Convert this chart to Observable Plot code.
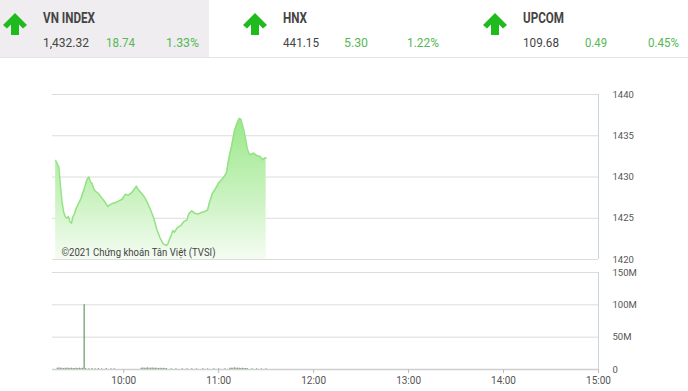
<!DOCTYPE html>
<html>
<head>
<meta charset="utf-8">
<script src="https://cdn.jsdelivr.net/npm/d3@7"></script>
<script src="https://cdn.jsdelivr.net/npm/@observablehq/plot@0.6"></script>
<style>
  html, body { margin: 0; padding: 0; background: #fff; }
  #root { position: relative; width: 688px; height: 391px; overflow: hidden; font-family: Roboto, "Noto Sans", sans-serif; }
  #header { position: absolute; left: 0; top: 0; }
  #price { position: absolute; left: 0; top: 58px; }
  #volume { position: absolute; left: 0; top: 265px; }
</style>
</head>
<body>
<div id="root">
  <div id="header"></div>
  <div id="price"></div>
  <div id="volume"></div>
</div>
<script>
// ---------- data ----------
const indexNames   = ["VN INDEX", "HNX", "UPCOM"];
const indexValues  = ["1,432.32", "441.15", "109.68"];
const indexChanges = ["18.74", "5.30", "0.49"];
const indexPercents = ["1.33%", "1.22%", "0.45%"];

// minutes after 09:00
const priceMinutes = [17,18,19,20,21,22,23,24,25,26,27,28,29,30,31,32,33,34,35,36,37,38,39,40,41,42,44,46,48,50,51,53,55,57,59,61,63,65,67,68,69,71,73,75,77,79,81,83,85,87,88,89,90,91,92,94,96,98,100,101,103,105,107,109,111,113,114,116,118,120,122,124,125,126,127,128,129,130,131,132,133,134,135,136,137,138,139,140,142,144,146,148,149,150];
const priceValues  = [1432.0,1431.6,1431.2,1429.0,1427.0,1425.8,1425.2,1425.0,1425.2,1424.6,1424.4,1425.2,1425.6,1426.2,1426.6,1427.0,1427.4,1428.0,1428.5,1429.2,1429.8,1430.0,1429.4,1429.2,1428.6,1428.3,1428.0,1427.5,1427.0,1426.4,1426.6,1426.8,1426.9,1427.1,1427.3,1427.9,1427.8,1428.1,1428.6,1428.9,1428.5,1428.1,1427.6,1426.9,1426.0,1425.0,1423.6,1422.6,1421.9,1421.7,1421.9,1422.5,1422.9,1423.5,1423.3,1423.9,1424.1,1424.6,1424.8,1425.5,1425.9,1425.6,1425.5,1425.7,1425.8,1426.0,1426.8,1428.0,1428.6,1429.3,1429.7,1430.2,1430.6,1431.8,1432.8,1433.6,1434.6,1435.6,1436.2,1436.7,1437.1,1437.0,1436.3,1435.6,1434.6,1433.5,1432.9,1432.7,1432.9,1432.6,1432.5,1432.1,1432.3,1432.3];

const volumeMinutes = [18,19,20,21,22,23,24,25,26,27,28,29,30,31,32,33,34,35,36,38,40,42,44,46,49,52,54,71,72,73,74,75,76,77,78,79,80,81,82,83,84,85,86,87,90,93,97,100,103,106,110,113,117,120,124,127,128,129,130,131,132,133,134,135,136,137,138,141,144,147,150];
const volumeValues  = [2,2.5,2,2,1.5,2,2,2,1.5,2,1.5,1.5,2,1.5,2,1.5,2,100,1.5,1,1.5,1,1.5,1,1.5,1,1,2,2.5,2,2,2.5,2,2,2.5,2,2,2,1.5,2,1.5,2,1.5,1.5,1,1,1,1,1,1,1,1,1,1,1,2,2,2,2.5,2,2,2,1.5,2,1.5,1.5,1.5,1,1,1,1];

const priceTicks = [1420, 1425, 1430, 1435, 1440];
const priceTickLabels = ["1420", "1425", "1430", "1435", "1440"];
const volumeTicks = [0, 50, 100, 150];
const volumeTickLabels = ["0", "50M", "100M", "150M"];
const timeTicks = [60, 120, 180, 240, 300, 360];
const timeTickLabels = ["10:00", "11:00", "12:00", "13:00", "14:00", "15:00"];
const copyright = "©2021 Chứng khoán Tân Việt (TVSI)";

const price = priceMinutes.map((m, i) => ({m, v: priceValues[i]}));
const volume = volumeMinutes.map((m, i) => ({m, v: volumeValues[i]}));

// ---------- header ----------
(function header() {
  const W = 688, H = 58;
  const svg = d3.select("#header").append("svg").attr("width", W).attr("height", H)
    .style("font-family", "Roboto, sans-serif");
  svg.append("rect").attr("x", 0).attr("y", 0).attr("width", 209).attr("height", 57).attr("fill", "#efedef");
  svg.append("line").attr("x1", 0).attr("x2", W).attr("y1", 57.5).attr("y2", 57.5).attr("stroke", "#e4e4e4");
  const xs = [43, 283, 523], ax = [15, 255, 495], cx = [106, 344, 585], px = [199, 439, 679];
  const nameW = [52, 24, 41], valW = [46, 36, 36], chW = [29, 24, 22], pW = [33, 32, 31];
  indexNames.forEach((name, i) => {
    const g = svg.append("g");
    const a = ax[i];
    g.append("path")
      .attr("d", `M${a},13 L${a+12},25 L${a+8},28.5 L${a+4},24.5 L${a+4},35 L${a-4},35 L${a-4},24.5 L${a-8},28.5 L${a-12},25 Z`)
      .attr("fill", "#1eba1e");
    g.append("text").attr("x", xs[i]).attr("y", 22.7).text(name)
      .attr("font-size", 14).attr("font-weight", 700).attr("fill", "#444")
      .attr("textLength", nameW[i]).attr("lengthAdjust", "spacingAndGlyphs");
    g.append("text").attr("x", xs[i]).attr("y", 46.7).text(indexValues[i])
      .attr("font-size", 13).attr("fill", "#444")
      .attr("textLength", valW[i]).attr("lengthAdjust", "spacingAndGlyphs");
    g.append("text").attr("x", cx[i]).attr("y", 46.7).text(indexChanges[i])
      .attr("font-size", 13).attr("fill", "#56b856")
      .attr("textLength", chW[i]).attr("lengthAdjust", "spacingAndGlyphs");
    g.append("text").attr("x", px[i] - pW[i]).attr("y", 46.7).text(indexPercents[i])
      .attr("font-size", 13).attr("fill", "#56b856")
      .attr("textLength", pW[i]).attr("lengthAdjust", "spacingAndGlyphs");
  });
})();

// ---------- price chart ----------
const xScale = {domain: [15, 360]};
const priceChart = Plot.plot({
  width: 688, height: 207,
  marginLeft: 52, marginRight: 90, marginTop: 36, marginBottom: 6,
  style: {fontFamily: "Roboto, sans-serif", fontSize: "9.5px", color: "#555", background: "transparent", overflow: "visible"},
  x: {...xScale, axis: null},
  y: {domain: [1420, 1440]},
  marks: [
    Plot.gridY(priceTicks, {stroke: "#dcdcdc", strokeOpacity: 1}),
    Plot.areaY(price, {x: "m", y1: 1420, y2: "v", fill: "url(#priceGrad)", curve: "linear"}),
    Plot.lineY(price, {x: "m", y: "v", stroke: "#93e284", strokeWidth: 1.5}),
    Plot.ruleX([360], {stroke: "#c9d6de"}),
    Plot.axisY({anchor: "right", ticks: priceTicks, tickFormat: (d) => priceTickLabels[priceTicks.indexOf(d)], tickSize: 0, tickPadding: 14, label: null, fill: "#555", textAnchor: "start"}),
    Plot.text([copyright], {frameAnchor: "bottom-left", dx: 9, dy: -4, textAnchor: "start", fontSize: 11, fill: "#444", className: "copyright"})
  ]
});
document.getElementById("price").appendChild(priceChart);
(function () {
  const svg = d3.select(priceChart);
  const grad = svg.insert("defs", ":first-child").append("linearGradient")
    .attr("id", "priceGrad").attr("x1", 0).attr("y1", 0).attr("x2", 0).attr("y2", 1);
  grad.append("stop").attr("offset", "0%").attr("stop-color", "#9be88b").attr("stop-opacity", 1);
  grad.append("stop").attr("offset", "55%").attr("stop-color", "#c9f2bf").attr("stop-opacity", 1);
  grad.append("stop").attr("offset", "100%").attr("stop-color", "#f5fcf3").attr("stop-opacity", 1);
  svg.selectAll(".copyright text").attr("textLength", 154).attr("lengthAdjust", "spacingAndGlyphs");
})();

// ---------- volume chart ----------
const volumeChart = Plot.plot({
  width: 688, height: 126,
  marginLeft: 52, marginRight: 90, marginTop: 7, marginBottom: 22,
  style: {fontFamily: "Roboto, sans-serif", fontSize: "10px", color: "#555", background: "transparent", overflow: "visible"},
  x: {...xScale},
  y: {domain: [0, 150]},
  marks: [
    Plot.gridY([50, 100, 150], {stroke: "#dcdcdc", strokeOpacity: 1}),
    Plot.ruleX(volume, {x: "m", y1: 0, y2: "v", stroke: "#3f7f3f", strokeWidth: 1.2, strokeOpacity: 0.8}),
    Plot.ruleY([0], {stroke: "#cfcfcf", strokeWidth: 1.5}),
    Plot.ruleX([360], {stroke: "#c9d6de"}),
    Plot.axisY({anchor: "right", ticks: volumeTicks, tickFormat: (d) => volumeTickLabels[volumeTicks.indexOf(d)], tickSize: 0, tickPadding: 14, label: null, fill: "#555", fontSize: 9.5, textAnchor: "start"}),
    Plot.axisX({ticks: timeTicks, tickFormat: (d) => timeTickLabels[timeTicks.indexOf(d)], tickSize: 4, tickPadding: 3, label: null, stroke: "#bbb", fill: "#555", fontSize: 10})
  ]
});
document.getElementById("volume").appendChild(volumeChart);
</script>
</body>
</html>
